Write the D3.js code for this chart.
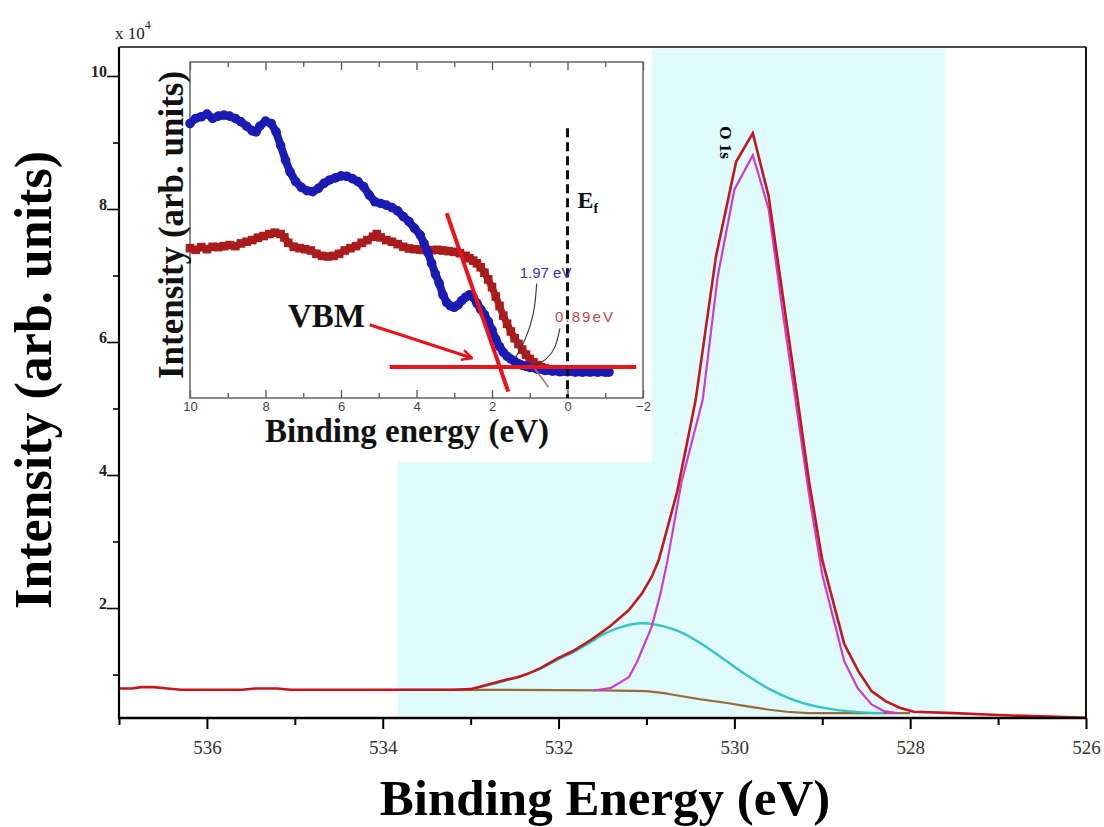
<!DOCTYPE html>
<html>
<head>
<meta charset="utf-8">
<script src="https://cdn.jsdelivr.net/npm/d3@7"></script>
<style>
  body { margin: 0; background: #fff; }
  svg { display: block; }
</style>
</head>
<body>
<svg id="chart" width="1104" height="827"></svg>
<script>
// ---------- O 1s core level (binding energy in eV, intensity in 10^4 counts) ----------
const measuredO1s = [
  [537.0,0.79],[536.85,0.79],[536.75,0.81],[536.6,0.81],[536.45,0.79],[536.3,0.77],
  [536.0,0.77],[535.6,0.77],[535.45,0.79],[535.2,0.79],[535.05,0.77],[534.5,0.77],
  [534.0,0.77],[533.5,0.77],[533.2,0.77],[533.0,0.78],[532.8,0.85],[532.6,0.92],
  [532.46,0.96],[532.35,1.01],[532.2,1.10],[532.0,1.25],[531.84,1.35],[531.62,1.53],
  [531.41,1.73],[531.2,1.97],[531.05,2.22],[530.94,2.47],[530.86,2.72],[530.65,3.75],
  [530.44,5.13],[530.21,7.28],[529.98,8.71],[529.79,9.14],[529.61,8.19],[529.45,6.7],
  [529.28,5.13],[529.15,3.9],[529.0,2.72],[528.85,1.96],[528.75,1.46],[528.59,1.05],
  [528.44,0.75],[528.28,0.60],[528.12,0.50],[527.96,0.44],[527.5,0.42],[527.0,0.39],
  [526.5,0.37],[526.0,0.35]
];
// lattice oxygen component
const latticeO = [
  [531.6,0.76],[531.4,0.80],[531.2,0.96],[531.1,1.21],[530.94,1.72],[530.84,2.22],
  [530.76,2.72],[530.6,3.9],[530.36,5.13],[530.19,6.98],[530.0,8.29],[529.79,8.81],
  [529.61,8.0],[529.45,6.45],[529.28,4.9],[529.15,3.7],[529.0,2.5],[528.85,1.72],
  [528.75,1.2],[528.6,0.8],[528.44,0.55],[528.3,0.45],[528.15,0.42]
];
// defect / adsorbed oxygen component
const adsorbedO = [
  [533.0,0.78],[532.8,0.84],[532.6,0.91],[532.4,0.99],[532.2,1.09],[532.0,1.23],
  [531.84,1.33],[531.62,1.50],[531.5,1.60],[531.3,1.71],[531.07,1.77],[530.9,1.75],
  [530.63,1.65],[530.37,1.46],[530.1,1.21],[529.85,0.98],[529.6,0.78],[529.33,0.62],
  [529.07,0.52],[528.8,0.46],[528.54,0.43],[528.3,0.42]
];
// Shirley background
const backgroundO = [
  [533.8,0.77],[533.0,0.77],[532.0,0.765],[531.5,0.76],[531.0,0.75],[530.8,0.72],
  [530.63,0.68],[530.4,0.63],[530.1,0.575],[529.85,0.52],[529.6,0.47],[529.4,0.44],
  [529.16,0.42],[528.5,0.42],[528.0,0.42]
];
const fitWindow = [533.83, 527.6];
const mainXTicks = [536, 534, 532, 530, 528, 526];
const mainXMinor = [537, 535, 533, 531, 529, 527];
const mainYTicks = [2, 4, 6, 8, 10];
const mainYMinor = [1, 3, 5, 7, 9];
const o1sPeak = [529.79, 9.14];

// ---------- valence band spectra (binding energy in eV, arb. units) ----------
const vbBlue = [
  [10.0,81.7],[9.85,83.2],[9.7,83.7],[9.55,84.5],[9.4,83.2],[9.25,83.9],[9.1,84.2],
  [8.95,83.9],[8.8,83.2],[8.65,82.2],[8.5,80.9],[8.35,79.5],[8.25,79.2],[8.15,80.9],
  [8.0,82.4],[7.85,81.7],[7.72,79.2],[7.6,75.2],[7.47,70.8],[7.35,67.3],[7.2,64.4],
  [7.05,62.7],[6.9,61.7],[6.75,61.4],[6.6,62.4],[6.45,63.9],[6.3,64.9],[6.15,65.5],
  [6.0,66.1],[5.85,66.0],[5.7,65.3],[5.55,64.4],[5.4,62.9],[5.25,60.4],[5.1,58.4],
  [4.95,57.9],[4.8,57.4],[4.65,56.7],[4.5,55.7],[4.35,54.0],[4.2,52.5],[4.05,50.5],
  [3.9,48.5],[3.8,46.0],[3.7,43.3],[3.6,40.1],[3.5,36.9],[3.4,34.2],[3.3,30.7],
  [3.2,28.4],[3.1,27.4],[3.0,27.0],[2.9,27.7],[2.8,29.0],[2.7,30.0],[2.6,30.7],
  [2.5,30.0],[2.4,28.2],[2.3,26.4],[2.2,24.8],[2.1,22.8],[2.0,20.3],[1.9,17.5],
  [1.8,15.3],[1.7,13.6],[1.6,12.4],[1.5,11.6],[1.4,10.9],[1.3,10.2],[1.2,9.7],
  [1.1,9.4],[1.0,9.1],[0.8,8.6],[0.6,8.2],[0.4,8.0],[0.2,7.8],[0.0,7.8],[-0.2,7.7],
  [-0.4,7.7],[-0.6,7.7],[-0.8,7.7],[-1.0,7.7],[-1.1,7.7]
];
const vbRed = [
  [10.0,44.6],[9.85,44.1],[9.7,44.9],[9.55,44.3],[9.4,45.0],[9.25,44.9],[9.1,45.2],
  [8.95,45.5],[8.8,45.2],[8.65,46.0],[8.5,46.5],[8.35,47.0],[8.2,47.7],[8.05,48.2],
  [7.9,48.8],[7.75,49.2],[7.6,48.8],[7.5,47.8],[7.4,46.2],[7.25,45.0],[7.1,44.6],
  [6.95,44.3],[6.8,43.9],[6.65,42.9],[6.5,42.3],[6.35,42.1],[6.2,42.3],[6.05,42.9],
  [5.9,43.9],[5.75,44.6],[5.6,45.2],[5.45,46.2],[5.3,47.0],[5.15,48.0],[5.05,48.8],
  [4.95,47.8],[4.8,47.0],[4.65,46.5],[4.5,45.8],[4.35,45.0],[4.2,44.5],[4.05,44.3],
  [3.9,44.1],[3.75,44.1],[3.6,44.0],[3.45,44.1],[3.3,43.9],[3.15,43.7],[3.0,43.5],
  [2.85,43.1],[2.7,42.3],[2.6,41.6],[2.5,40.9],[2.4,40.1],[2.3,38.9],[2.2,37.3],
  [2.1,35.3],[2.0,33.0],[1.9,30.2],[1.8,27.4],[1.7,24.5],[1.6,22.1],[1.5,19.8],
  [1.4,17.8],[1.3,16.1],[1.2,14.4],[1.1,12.9],[1.0,11.6],[0.9,10.6],[0.8,9.8],
  [0.7,9.2],[0.6,8.8],[0.5,8.6],[0.4,8.4],[0.3,8.3],[0.2,8.2]
];
const vbmTangent = [[3.2,55],[1.57,1.9]];
const vbmBaseline = [[4.71,9.2],[-1.82,9.2]];
const vbmArrow = [[5.24,21.8],[2.53,11.9]];
const redTangent = [[0.95,10],[0.5,3.2]];
const leaderBlue = [[0.816,34.1],[0.905,25.2],[1.13,17.3],[1.39,11.8]];
const leaderRed = [[0.2,20.7],[0.33,15.3],[0.55,11.8],[0.82,9.8]];
const fermiLevel = [[0,80.3],[0,0]];
const insetXTicks = [10, 8, 6, 4, 2, 0, -2];
const insetXMinor = [9, 7, 5, 3, 1, -1];

const SERIF = '"Liberation Serif", "Times New Roman", serif';
const SANS = '"Liberation Sans", Arial, sans-serif';

// ---------- drawing ----------
const svg = d3.select('#chart');

const x = d3.scaleLinear().domain([537, 526]).range([119, 1086]);
const y = d3.scaleLinear().domain([0.346, 10.436]).range([718, 47]);

// highlighted fit window
svg.append('rect')
  .attr('x', x(fitWindow[0])).attr('y', 49)
  .attr('width', x(fitWindow[1]) - x(fitWindow[0])).attr('height', 667)
  .attr('fill', '#dffbfb');

// white panel behind the inset
svg.append('rect')
  .attr('x', 140).attr('y', 49).attr('width', 512).attr('height', 413)
  .attr('fill', '#ffffff');

const lineOf = (curveType) => d3.line().x(d => x(d[0])).y(d => y(d[1])).curve(curveType);

svg.append('path').datum(backgroundO).attr('d', lineOf(d3.curveLinear))
  .attr('fill', 'none').attr('stroke', '#9a6a38').attr('stroke-width', 2.2);
svg.append('path').datum(adsorbedO).attr('d', lineOf(d3.curveCatmullRom))
  .attr('fill', 'none').attr('stroke', '#33c4c4').attr('stroke-width', 2.4);
svg.append('path').datum(latticeO).attr('d', lineOf(d3.curveLinear))
  .attr('fill', 'none').attr('stroke', '#cc3ad8').attr('stroke-width', 2.2);
svg.append('path').datum(measuredO1s).attr('d', lineOf(d3.curveLinear))
  .attr('fill', 'none').attr('stroke', '#c4161c').attr('stroke-width', 2.6);

// main axes
const gx = svg.append('g').attr('transform', 'translate(0,718)');
gx.call(d3.axisBottom(x).tickValues(mainXTicks).tickSize(11).tickSizeOuter(0).tickPadding(12))
  .call(g => g.select('.domain').remove())
  .call(g => g.attr('font-family', SERIF).attr('font-size', 19))
  .call(g => g.selectAll('.tick line').attr('stroke', '#000').attr('stroke-width', 2))
  .call(g => g.selectAll('text').attr('fill', '#333'));
gx.append('g')
  .call(d3.axisBottom(x).tickValues(mainXMinor).tickSize(7).tickSizeOuter(0).tickFormat(''))
  .call(g => g.select('.domain').remove())
  .call(g => g.selectAll('.tick line').attr('stroke', '#000').attr('stroke-width', 2));

const gy = svg.append('g').attr('transform', 'translate(119,0)');
gy.call(d3.axisLeft(y).tickValues(mainYTicks).tickSize(12).tickSizeOuter(0))
  .call(g => g.select('.domain').remove())
  .call(g => g.attr('font-family', SERIF).attr('font-size', 16).attr('font-weight', 'bold'))
  .call(g => g.selectAll('.tick line').attr('stroke', '#000').attr('stroke-width', 1.6))
  .call(g => g.selectAll('text').attr('fill', '#222').attr('x', -12).attr('dy', '0.05em'));
gy.append('g')
  .call(d3.axisLeft(y).tickValues(mainYMinor).tickSize(6).tickSizeOuter(0).tickFormat(''))
  .call(g => g.select('.domain').remove())
  .call(g => g.selectAll('.tick line').attr('stroke', '#000').attr('stroke-width', 1.6));

// frame
svg.append('line').attr('x1', 119).attr('x2', 1086).attr('y1', 47).attr('y2', 47)
  .attr('stroke', '#111').attr('stroke-width', 1.6);
svg.append('line').attr('x1', 1086).attr('x2', 1086).attr('y1', 47).attr('y2', 718)
  .attr('stroke', '#111').attr('stroke-width', 2);
svg.append('line').attr('x1', 119).attr('x2', 119).attr('y1', 47).attr('y2', 719)
  .attr('stroke', '#000').attr('stroke-width', 2.2);
svg.append('line').attr('x1', 118).attr('x2', 1087).attr('y1', 718).attr('y2', 718)
  .attr('stroke', '#000').attr('stroke-width', 2.4);

// multiplier
const mult = svg.append('text').attr('font-family', SERIF).attr('x', 115).attr('y', 39)
  .attr('font-size', 17).attr('fill', '#222');
mult.append('tspan').text('x 10');
mult.append('tspan').attr('font-size', 12).attr('dy', -10).text('4');

// axis titles
svg.append('text').attr('font-family', SERIF).attr('font-weight', 'bold')
  .attr('font-size', 51).attr('text-anchor', 'middle')
  .attr('x', 605).attr('y', 815).text('Binding Energy (eV)');
svg.append('text').attr('font-family', SERIF).attr('font-weight', 'bold')
  .attr('font-size', 52).attr('text-anchor', 'middle')
  .attr('transform', 'translate(51,380) rotate(-90)')
  .text('Intensity (arb. units)');

// peak label
svg.append('text').attr('font-family', SERIF).attr('font-weight', 'bold')
  .attr('font-size', 17)
  .attr('transform', `translate(${x(o1sPeak[0]) - 33},${y(o1sPeak[1]) - 7}) rotate(90)`)
  .text('O 1s');

// ---------- inset ----------
const ix = d3.scaleLinear().domain([10, -2]).range([190, 643]);
const iy = d3.scaleLinear().domain([0, 100]).range([398, 62]);
const iline = d3.line().x(d => ix(d[0])).y(d => iy(d[1]));

const inset = svg.append('g');

// inset axes
const ibx = inset.append('g').attr('transform', 'translate(0,398)');
ibx.call(d3.axisBottom(ix).tickValues(insetXTicks).tickSize(-8).tickSizeOuter(0))
  .call(g => g.select('.domain').remove())
  .call(g => g.attr('font-family', SANS).attr('font-size', 13))
  .call(g => g.selectAll('.tick line').attr('stroke', '#555').attr('stroke-width', 1.3))
  .call(g => g.selectAll('text').attr('fill', '#444').attr('y', 4));
ibx.append('g')
  .call(d3.axisBottom(ix).tickValues(insetXMinor).tickSize(-5).tickSizeOuter(0).tickFormat(''))
  .call(g => g.select('.domain').remove())
  .call(g => g.selectAll('.tick line').attr('stroke', '#555').attr('stroke-width', 1.3));
const itx = inset.append('g').attr('transform', 'translate(0,62)');
itx.call(d3.axisTop(ix).tickValues(insetXTicks).tickSize(-8).tickSizeOuter(0).tickFormat(''))
  .call(g => g.select('.domain').remove())
  .call(g => g.selectAll('.tick line').attr('stroke', '#555').attr('stroke-width', 1.3));
itx.append('g')
  .call(d3.axisTop(ix).tickValues(insetXMinor).tickSize(-5).tickSizeOuter(0).tickFormat(''))
  .call(g => g.select('.domain').remove())
  .call(g => g.selectAll('.tick line').attr('stroke', '#555').attr('stroke-width', 1.3));
inset.append('rect').attr('x', 190).attr('y', 62).attr('width', 453).attr('height', 336)
  .attr('fill', 'none').attr('stroke', '#666').attr('stroke-width', 1.5);

// spectra
inset.append('path').datum(vbRed).attr('d', iline)
  .attr('fill', 'none').attr('stroke', '#b01e1e').attr('stroke-width', 7)
  .attr('stroke-linejoin', 'round');
inset.selectAll('rect.sq').data(vbRed).join('rect').attr('class', 'sq')
  .attr('x', d => ix(d[0]) - 4.3).attr('y', d => iy(d[1]) - 4.3)
  .attr('width', 8.6).attr('height', 8.6).attr('fill', '#aa1c1c');

inset.append('path').datum(vbBlue).attr('d', iline)
  .attr('fill', 'none').attr('stroke', '#1c1cb0').attr('stroke-width', 8)
  .attr('stroke-linejoin', 'round');
inset.selectAll('circle.dot').data(vbBlue).join('circle').attr('class', 'dot')
  .attr('cx', d => ix(d[0])).attr('cy', d => iy(d[1])).attr('r', 4.8)
  .attr('fill', '#1a1ab4');

// Fermi level
inset.append('path').datum(fermiLevel).attr('d', iline)
  .attr('stroke', '#111').attr('stroke-width', 3).attr('stroke-dasharray', '9,5');
const ef = inset.append('text').attr('font-family', SERIF).attr('font-weight', 'bold')
  .attr('x', ix(0) + 10).attr('y', 208).attr('font-size', 24).attr('fill', '#111');
ef.append('tspan').text('E');
ef.append('tspan').attr('font-size', 14).attr('dy', 5).text('f');

// VBM construction
inset.append('path').datum(redTangent).attr('d', iline)
  .attr('stroke', '#c07070').attr('stroke-width', 1.6);
inset.append('path').datum(vbmTangent).attr('d', iline)
  .attr('stroke', '#e8141c').attr('stroke-width', 4);
inset.append('path').datum(vbmBaseline).attr('d', iline)
  .attr('stroke', '#e8141c').attr('stroke-width', 4);

svg.append('defs').append('marker').attr('id', 'arrow')
  .attr('viewBox', '0 0 12 12').attr('refX', 11).attr('refY', 6)
  .attr('markerWidth', 12).attr('markerHeight', 12).attr('markerUnits', 'userSpaceOnUse')
  .attr('orient', 'auto')
  .append('path').attr('d', 'M1,1 L11,6 L1,11').attr('fill', 'none')
  .attr('stroke', '#e8141c').attr('stroke-width', 2.6);
inset.append('path').datum(vbmArrow).attr('d', iline)
  .attr('stroke', '#e8141c').attr('stroke-width', 3).attr('marker-end', 'url(#arrow)');
inset.append('text').attr('font-family', SERIF).attr('font-weight', 'bold')
  .attr('font-size', 33).attr('fill', '#111')
  .attr('x', 288).attr('y', 327).text('VBM');

// leaders to the onset values
const curve = d3.line().x(d => ix(d[0])).y(d => iy(d[1])).curve(d3.curveNatural);
inset.append('path').datum(leaderBlue).attr('d', curve)
  .attr('fill', 'none').attr('stroke', '#333').attr('stroke-width', 1.1);
inset.append('path').datum(leaderRed).attr('d', curve)
  .attr('fill', 'none').attr('stroke', '#333').attr('stroke-width', 1.1);
inset.append('text').attr('font-family', SANS).attr('font-size', 15).attr('fill', '#3434c4')
  .attr('x', ix(leaderBlue[0][0]) - 17).attr('y', 278).text('1.97 eV');
inset.append('text').attr('font-family', SANS).attr('font-size', 15).attr('fill', '#c04848')
  .attr('x', ix(leaderRed[0][0]) - 5).attr('y', 322)
  .attr('textLength', 58).attr('lengthAdjust', 'spacing').text('0.89eV');

// inset titles
inset.append('text').attr('font-family', SERIF).attr('font-weight', 'bold')
  .attr('font-size', 33).attr('text-anchor', 'middle').attr('fill', '#111')
  .attr('x', 407).attr('y', 442).text('Binding energy (eV)');
inset.append('text').attr('font-family', SERIF).attr('font-weight', 'bold')
  .attr('font-size', 35).attr('text-anchor', 'middle').attr('fill', '#111')
  .attr('transform', 'translate(183,225) rotate(-90)')
  .text('Intensity (arb. units)');
</script>
</body>
</html>
